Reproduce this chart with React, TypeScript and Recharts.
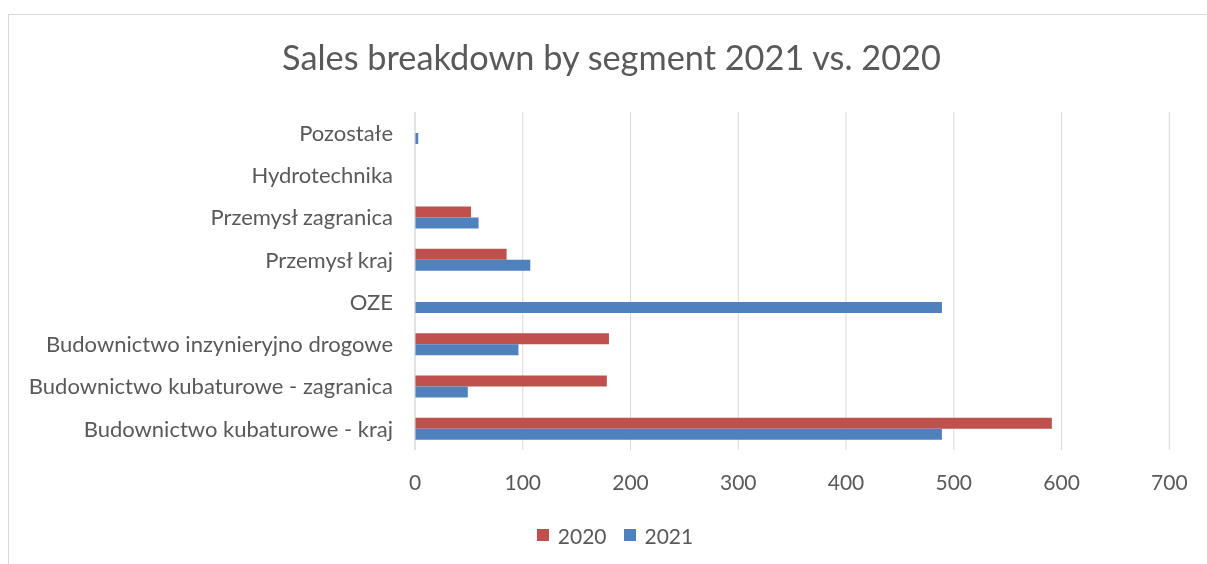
import { BarChart, Bar, XAxis, YAxis, CartesianGrid, Legend } from "recharts";

const segments = [
  "Pozostałe",
  "Hydrotechnika",
  "Przemysł zagranica",
  "Przemysł kraj",
  "OZE",
  "Budownictwo inzynieryjno drogowe",
  "Budownictwo kubaturowe - zagranica",
  "Budownictwo kubaturowe - kraj",
];
const sales2020 = [0, 0, 52, 85, 0, 180, 178, 591];
const sales2021 = [3, 0, 59, 107, 489, 96, 49, 489];
const xTicks = [0, 100, 200, 300, 400, 500, 600, 700];

const RED = "#C0504D";
const BLUE = "#4F81BD";
const TEXT = "#595959";
const GRID = "#d9d9d9";
const FONT = "Lato, 'Open Sans', sans-serif";

const data = segments.map((name, i) => ({ name, y2020: sales2020[i], y2021: sales2021[i] }));

function LegendBox({ payload }: { payload?: { value: string; color: string }[] }) {
  return (
    <div
      style={{
        display: "flex",
        justifyContent: "center",
        alignItems: "center",
        height: 30,
        paddingLeft: 39,
        fontFamily: FONT,
        fontSize: 21,
        color: TEXT,
      }}
    >
      {(payload || []).map((p) => (
        <div key={p.value} style={{ display: "flex", alignItems: "center", marginRight: 17 }}>
          <span style={{ width: 12, height: 12, background: p.color, marginRight: 9, display: "inline-block" }} />
          <span>{p.value}</span>
        </div>
      ))}
    </div>
  );
}

export default function App() {
  return (
    <div style={{ position: "relative", width: 1191, height: 548 }}>
      {/* chart frame runs off the right and bottom edges of the page */}
      <div
        style={{
          position: "fixed",
          left: 8,
          top: 14,
          width: 1230,
          height: 580,
          borderTop: `1px solid ${GRID}`,
          borderLeft: `1px solid ${GRID}`,
          pointerEvents: "none",
        }}
      />
      <div style={{ position: "absolute", left: 1, top: 7, width: 1190, height: 541 }}>
        <div
          style={{
            position: "absolute",
            left: 0,
            top: 22.4,
            width: 1205,
            textAlign: "center",
            whiteSpace: "nowrap",
            fontFamily: FONT,
            fontSize: 34.3,
            lineHeight: "40px",
            color: TEXT,
          }}
        >
          Sales breakdown by segment 2021 vs. 2020
        </div>
        <BarChart
          width={1190}
          height={541}
          data={data}
          layout="vertical"
          margin={{ top: 97, right: 29.7, bottom: 6, left: 0 }}
          barGap={0}
        >
          <CartesianGrid horizontal={false} stroke={GRID} />
          <XAxis
            type="number"
            domain={[0, 700]}
            ticks={xTicks}
            axisLine={false}
            tickLine={false}
            tickSize={0}
            tickMargin={25}
            height={70}
            tick={{ fill: TEXT, fontSize: 21, fontFamily: FONT }}
          />
          <YAxis
            type="category"
            dataKey="name"
            width={406}
            axisLine={{ stroke: GRID }}
            tickLine={false}
            tickSize={0}
            tickMargin={22}
            tick={{ fill: TEXT, fontSize: 22, fontFamily: FONT }}
          />
          <Legend
            verticalAlign="bottom"
            align="center"
            wrapperStyle={{ left: 0, width: 1190 }}
            content={(props: any) => <LegendBox payload={props.payload} />}
          />
          <Bar dataKey="y2020" name="2020" fill={RED} barSize={11} isAnimationActive={false} />
          <Bar dataKey="y2021" name="2021" fill={BLUE} barSize={11} isAnimationActive={false} />
        </BarChart>
      </div>
    </div>
  );
}
